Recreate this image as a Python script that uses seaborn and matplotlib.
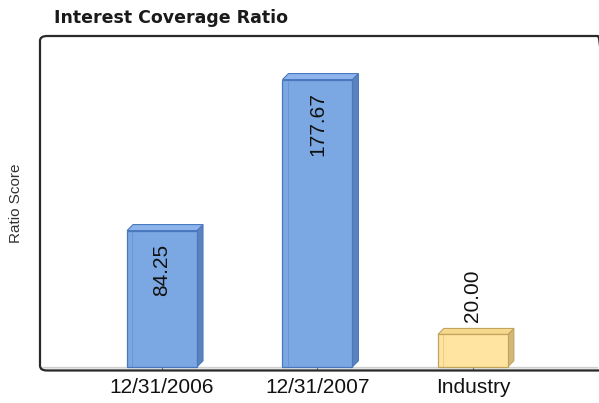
import matplotlib
matplotlib.use("Agg")
import matplotlib.pyplot as plt
import seaborn as sns
import pandas as pd
from matplotlib.patches import Polygon, FancyBboxPatch

categories = ["12/31/2006", "12/31/2007", "Industry"]
values = [84.25, 177.67, 20.00]
labels = ["84.25", "177.67", "20.00"]

front_colors = ["#7BA7E3", "#7BA7E3", "#FEE4A0"]
edge_colors = ["#4A78BE", "#4A78BE", "#C2A45E"]
side_colors = ["#5C82BE", "#5C82BE", "#D2B777"]
top_colors = ["#8DB5EC", "#8DB5EC", "#F6D98C"]

df = pd.DataFrame({"cat": categories, "val": values})

sns.set_theme(style="white")
plt.rcParams["font.family"] = ["Liberation Sans", "DejaVu Sans"]

W, H = 599, 403
fig = plt.figure(figsize=(W / 100, H / 100), dpi=100)
left, right, top, bottom = 40, 598, 37, 370
ax = fig.add_axes([left / W, 1 - bottom / H, (right - left) / W, (bottom - top) / H])
ax.set_facecolor("none")

sns.barplot(data=df, x="cat", y="val", hue="cat", palette=front_colors,
            width=0.45, ax=ax, legend=False, saturation=1)
bars = sorted([p for c in ax.containers for p in c], key=lambda p: p.get_x())

ax.set_xlim(-0.785, 2.805)
ax.set_ylim(-2, 204)

# floor band
ax.axhspan(-2, 0, color="#E6E6E6", zorder=0)
ax.axhline(0, color="#D0D0D0", lw=0.8, zorder=0.5)

for s in ax.spines.values():
    s.set_visible(False)

fig.canvas.draw()
inv = ax.transData.inverted()
p0 = inv.transform((0, 0))
p1 = inv.transform((6, 6))
dx, dy = p1[0] - p0[0], p1[1] - p0[1]

for i, patch in enumerate(bars):
    x0 = patch.get_x()
    w = patch.get_width()
    h = patch.get_height()
    x1 = x0 + w
    patch.set_edgecolor(edge_colors[i])
    patch.set_linewidth(0.9)
    patch.set_zorder(3)
    side = Polygon([(x1, 0), (x1 + dx, dy), (x1 + dx, h + dy), (x1, h)], closed=True,
                   facecolor=side_colors[i], edgecolor=edge_colors[i], lw=0.8, zorder=2.9)
    topf = Polygon([(x0, h), (x1, h), (x1 + dx, h + dy), (x0 + dx, h + dy)], closed=True,
                   facecolor=top_colors[i], edgecolor=edge_colors[i], lw=0.8, zorder=2.9)
    ax.add_patch(side)
    ax.add_patch(topf)
    ax.plot([x0 + dx * 0.9, x0 + dx * 0.9], [0, h], color=edge_colors[i], lw=0.5, alpha=0.5, zorder=3.1)
    cx = x0 + w / 2
    if h > 50:
        ax.annotate(labels[i], (cx, h), xytext=(0, -13), textcoords="offset pixels",
                    rotation=90, ha="center", va="top", fontsize=15, color="#111111", zorder=4)
    else:
        ax.annotate(labels[i], (cx, h), xytext=(0, 12), textcoords="offset pixels",
                    rotation=90, ha="center", va="bottom", fontsize=15, color="#111111", zorder=4)

ax.set_xlabel("")
ax.set_ylabel("Ratio Score", fontsize=11, color="#333333", labelpad=12)
ax.set_yticks([])
ax.tick_params(axis="x", direction="in", length=4, width=0.8, color="#777777",
               labelsize=15, labelcolor="#111111", pad=6, bottom=True)

frame_right = 605
frame = FancyBboxPatch((left / W, 1 - 370.5 / H), (frame_right - left) / W, (370.5 - 36) / H,
                       boxstyle="round,pad=0,rounding_size=0.012", transform=fig.transFigure,
                       facecolor="none", edgecolor="#2A2A2A", lw=1.6, zorder=5)
fig.patches.append(frame)

fig.text(54 / W, 1 - 18 / H, "Interest Coverage Ratio", fontsize=12.5, fontweight="bold",
         family=["DejaVu Sans"], color="#1A1A1A", ha="left", va="center")

fig.savefig("out.png", dpi=100)
